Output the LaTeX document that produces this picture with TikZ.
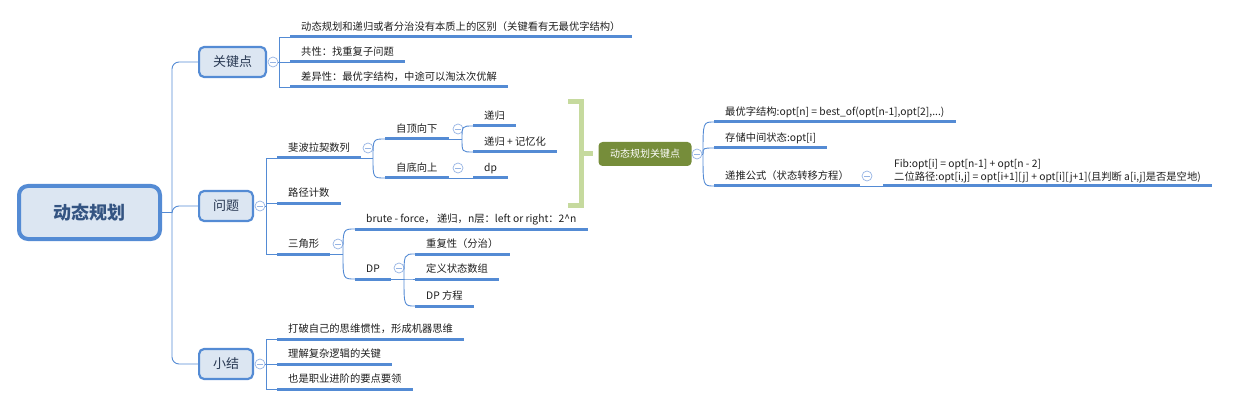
\documentclass[tikz,border=0pt]{standalone}
\usepackage{fontspec}
\setmainfont{Noto Sans CJK SC}
\definecolor{ublue}{RGB}{84,139,212}
\definecolor{lblue}{RGB}{220,230,242}
\definecolor{btnblue}{RGB}{150,180,228}
\definecolor{rtxt}{RGB}{52,84,130}
\definecolor{ltxt}{RGB}{40,56,82}
\definecolor{txt}{RGB}{30,30,30}
\definecolor{olive}{RGB}{118,141,58}
\definecolor{brkgreen}{RGB}{198,218,158}
\begin{document}
\begin{tikzpicture}[
    x=1pt, y=-1pt,
    root_style/.style={draw=ublue, fill=lblue, line width=4pt, rounded corners=9pt, minimum width=141pt, minimum height=53pt, text=rtxt, font=\fontsize{18}{20}\selectfont\bfseries},
    l1_style/.style={anchor=west, draw=ublue, fill=lblue, line width=2.2pt, rounded corners=5pt, minimum height=30pt, inner xsep=13.9pt, text=ltxt, font=\fontsize{13}{15}\selectfont},
    kp_style/.style={fill=olive, rounded corners=4pt, minimum width=93pt, minimum height=24pt, text=white, font=\fontsize{10}{12}\selectfont},
    uline/.style={draw=ublue, line width=3pt},
    topic/.style={anchor=south west, inner xsep=11pt, inner ysep=4pt, text height=8pt, text depth=2pt, text=txt, font=\fontsize{10.3}{12.5}\selectfont,
        append after command={(\tikzlastnode.south west) edge[uline] (\tikzlastnode.south east)}},
    btn/.style={circle, draw=btnblue, fill=white, line width=0.7pt, minimum size=10pt, inner sep=0pt,
        path picture={\draw[btnblue, line width=0.7pt] ([xshift=-2.6pt]path picture bounding box.center) -- ([xshift=2.6pt]path picture bounding box.center);}},
    link/.style={draw=ublue, line width=0.9pt},
    bracket/.style={draw=brkgreen, line width=5pt}
]
\useasboundingbox (0,0) rectangle (1233,406);

\node[root_style] (root) at (89.5,212.5) {动态规划};
\node[l1_style] (key) at (198,62) {关键点};
\node[l1_style] (prob) at (198,206) {问题};
\node[l1_style] (summ) at (198,364) {小结};

\node[btn] (kbtn) at (273,62) {};
\node[btn] (pbtn) at (260,206) {};
\node[btn] (sbtn) at (260,364) {};

\coordinate (rj) at (172,212.5);
\coordinate (kj) at (279,62);
\coordinate (pj) at (266,206);
\coordinate (sj) at (266,364);
\coordinate (fj) at (373,158);
\coordinate (tdj) at (462,139);
\coordinate (tj) at (343,254);
\coordinate (dpj) at (404,279);
\coordinate (kpj) at (703,154);

\draw[link] (root.east) -- (rj);
\foreach \n in {key,prob,summ}
    \draw[link, rounded corners=7pt] (rj) |- (\n.west);

\node[topic] (k1) at (290,37) {动态规划和递归或者分治没有本质上的区别（关键看有无最优字结构）};
\node[topic] (k2) at (290,62) {共性：找重复子问题};
\node[topic] (k3) at (290,87) {差异性：最优字结构，中途可以淘汰次优解};
\draw[link] (kbtn.east) -- (kj);
\foreach \n in {k1,k2,k3}
    \draw[link] (kj) |- (\n.south west);

\node[topic] (fib) at (277,158) {斐波拉契数列};
\node[topic] (path) at (277,203) {路径计数};
\node[topic] (tri) at (277,254) {三角形};
\draw[link] (pbtn.east) -- (pj);
\foreach \n in {fib,path,tri}
    \draw[link] (pj) |- (\n.south west);

\node[btn] (fbtn) at (368,148) {};
\node[topic] (td) at (385,139) {自顶向下};
\node[topic] (bu) at (385,178) {自底向上};
\draw[link] (fib.south east) -- (fj);
\foreach \n in {td,bu}
    \draw[link] (fj) .. controls (fj |- \n.south west) .. (\n.south west);

\node[btn] (tdbtn) at (458,129) {};
\node[btn] (bubtn) at (458,168) {};
\node[topic] (rec) at (473,126) {递归};
\node[topic] (memo) at (473,152) {递归 + 记忆化};
\node[topic] (dp) at (473,178) {dp};
\draw[link] (td.south east) -- (tdj);
\foreach \n in {rec,memo}
    \draw[link] (tdj) .. controls (tdj |- \n.south west) .. (\n.south west);
\draw[link] (bu.south east) -- (dp.south west);

\node[btn] (tbtn) at (338,244) {};
\node[topic] (brute) at (355,229) {brute - force， 递归，n层：left or right：2\textasciicircum n};
\node[topic] (dpn) at (355,279) {DP};
\draw[link] (tri.south east) -- (tj);
\foreach \n in {brute,dpn}
    \draw[link] (tj) .. controls (tj |- \n.south west) .. (\n.south west);

\node[btn] (dpbtn) at (399,268) {};
\node[topic] (dup) at (415,254) {重复性（分治）};
\node[topic] (state) at (415,279) {定义状态数组};
\node[topic] (eq) at (415,306) {DP 方程};
\draw[link] (dpn.south east) -- (dpj);
\foreach \n in {dup,state,eq}
    \draw[link] (dpj) .. controls (dpj |- \n.south west) .. (\n.south west);

\node[topic] (s1) at (277,339) {打破自己的思维惯性，形成机器思维};
\node[topic] (s2) at (277,364) {理解复杂逻辑的关键};
\node[topic] (s3) at (277,389) {也是职业进阶的要点要领};
\draw[link] (sbtn.east) -- (sj);
\foreach \n in {s1,s2,s3}
    \draw[link] (sj) |- (\n.south west);

\node[kp_style] (kp) at (645,154) {动态规划关键点};
\draw[bracket] (568,102) -| (581,205) -- (568,205);
\draw[bracket, shorten >=5pt] (581,154) -- (kp.west);

\node[btn] (kpbtn) at (697,154) {};
\node[topic] (r1) at (714,122) {最优字结构:opt[n] = best\_of(opt[n-1],opt[2],...)};
\node[topic] (r2) at (714,148) {存储中间状态:opt[i]};
\node[topic] (r3) at (714,186) {递推公式（状态转移方程）};
\draw[link] (kpbtn.east) -- (kpj);
\foreach \n in {r1,r2,r3}
    \draw[link] (kpj) .. controls (kpj |- \n.south west) .. (\n.south west);

\node[btn] (r3btn) at (867,176) {};
\node[topic, text height=, text depth=, align=left, inner ysep=3pt] (fibf) at (883,186)
    {Fib:opt[i] = opt[n-1] + opt[n - 2]\\二位路径:opt[i,j] = opt[i+1][j] + opt[i][j+1](且判断 a[i,j]是否是空地)};
\draw[link] (r3.south east) -- (fibf.south west);
\end{tikzpicture}
\end{document}
